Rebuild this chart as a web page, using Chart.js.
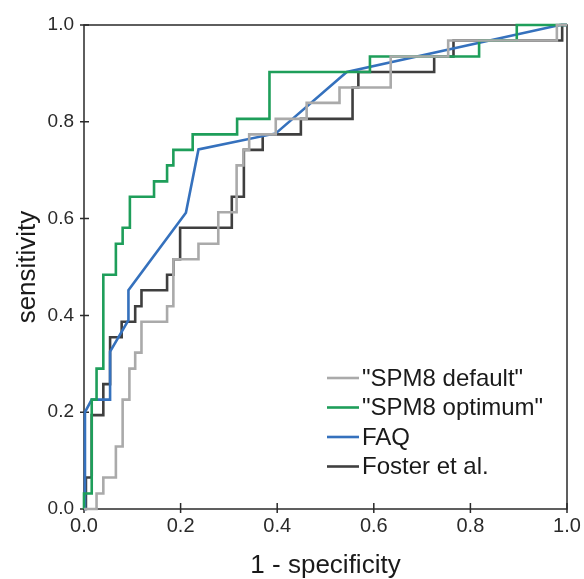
<!DOCTYPE html>
<html>
<head>
<meta charset="utf-8">
<script src="https://cdn.jsdelivr.net/npm/chart.js@4.4.0/dist/chart.umd.min.js"></script>
<style>
html, body { margin: 0; padding: 0; background: #fff; }
#wrap { width: 584px; height: 579px; }
</style>
</head>
<body>
<div id="wrap"><canvas id="roc" width="584" height="579"></canvas></div>
<script>
// ROC curves: x = 1 - specificity, y = sensitivity
// stepped curves: at each x the curve jumps up to the listed y

const defaultFpr = [0, 0.026, 0.04, 0.066, 0.08, 0.094, 0.106, 0.119, 0.172, 0.185, 0.237, 0.278, 0.316, 0.33, 0.342, 0.397, 0.461, 0.529, 0.635, 0.754, 0.979, 1.0];
const defaultTpr = [0, 0.032, 0.065, 0.129, 0.226, 0.29, 0.323, 0.387, 0.419, 0.516, 0.548, 0.613, 0.71, 0.742, 0.774, 0.806, 0.839, 0.871, 0.935, 0.968, 1.0, 1.0];

const optimumFpr = [0, 0, 0.016, 0.026, 0.04, 0.066, 0.08, 0.095, 0.145, 0.172, 0.185, 0.225, 0.317, 0.384, 0.592, 0.818, 0.896, 1.0];
const optimumTpr = [0, 0.032, 0.226, 0.29, 0.484, 0.548, 0.581, 0.645, 0.677, 0.71, 0.742, 0.774, 0.806, 0.903, 0.935, 0.968, 1.0, 1.0];

// FAQ is drawn as a plain polyline
const faqFpr = [0, 0.002, 0.016, 0.054, 0.054, 0.092, 0.092, 0.211, 0.237, 0.397, 0.544, 0.985, 1.0];
const faqTpr = [0, 0.2, 0.226, 0.226, 0.325, 0.39, 0.452, 0.612, 0.743, 0.776, 0.903, 1.0, 1.0];

const fosterFpr = [0, 0.004, 0.016, 0.04, 0.054, 0.078, 0.106, 0.119, 0.172, 0.185, 0.199, 0.306, 0.331, 0.37, 0.449, 0.556, 0.568, 0.725, 0.765, 0.99, 1.0];
const fosterTpr = [0, 0.065, 0.194, 0.258, 0.355, 0.387, 0.419, 0.452, 0.484, 0.516, 0.581, 0.645, 0.742, 0.774, 0.806, 0.871, 0.903, 0.935, 0.968, 1.0, 1.0];

const seriesNames = ['"SPM8 default"', '"SPM8 optimum"', 'FAQ', 'Foster et al.'];
const seriesColors = ['#aaaaaa', '#1e9e5a', '#3571bd', '#3f3f3f'];

const FONT = "'Liberation Sans', Arial, Helvetica, sans-serif";
const INK = '#2a2a2a';

function toPoints(xs, ys) {
    return xs.map((x, i) => ({ x: x, y: ys[i] }));
}

function makeSet(i, xs, ys, stepped) {
    return {
        label: seriesNames[i],
        data: toPoints(xs, ys),
        borderColor: seriesColors[i],
        backgroundColor: seriesColors[i],
        borderWidth: 2.6,
        pointRadius: 0,
        // 'before' = run across at the old height, then climb
        stepped: stepped ? 'before' : false,
        tension: 0,
        fill: false,
        clip: 4
    };
}

// box around the plot plus ticks crossing the axes
const frameTicks = {
    id: 'frameTicks',
    beforeDatasetsDraw(chart) {
        const { ctx, chartArea: a, scales } = chart;
        ctx.save();
        ctx.strokeStyle = INK;
        ctx.lineWidth = 1.5;
        ctx.strokeRect(a.left, a.top, a.right - a.left, a.bottom - a.top);
        ctx.beginPath();
        scales.x.ticks.forEach(t => {
            const px = scales.x.getPixelForValue(t.value);
            ctx.moveTo(px, a.bottom - 6);
            ctx.lineTo(px, a.bottom + 4);
        });
        scales.y.ticks.forEach(t => {
            const py = scales.y.getPixelForValue(t.value);
            ctx.moveTo(a.left - 4, py);
            ctx.lineTo(a.left + 5, py);
        });
        ctx.stroke();
        ctx.restore();
    }
};

// legend sitting inside the plot, lower right
const insideLegend = {
    id: 'insideLegend',
    afterDatasetsDraw(chart, args, opts) {
        const { ctx } = chart;
        ctx.save();
        ctx.font = opts.fontSize + 'px ' + FONT;
        ctx.textBaseline = 'middle';
        ctx.textAlign = 'left';
        chart.data.datasets.forEach((ds, i) => {
            const y = opts.top + i * opts.rowGap;
            ctx.strokeStyle = ds.borderColor;
            ctx.lineWidth = 2.6;
            ctx.beginPath();
            ctx.moveTo(opts.lineStart, y);
            ctx.lineTo(opts.lineEnd, y);
            ctx.stroke();
            ctx.fillStyle = '#1a1a1a';
            ctx.fillText(ds.label, opts.textX, y + 1);
        });
        ctx.restore();
    }
};

const chart = new Chart(document.getElementById('roc'), {
    type: 'line',
    data: {
        datasets: [
            makeSet(0, defaultFpr, defaultTpr, true),
            makeSet(1, optimumFpr, optimumTpr, true),
            makeSet(2, faqFpr, faqTpr, false),
            makeSet(3, fosterFpr, fosterTpr, true)
        ]
    },
    options: {
        responsive: false,
        animation: false,
        layout: { padding: { top: 25, right: 17, left: 0, bottom: 0 } },
        plugins: {
            legend: { display: false },
            tooltip: { enabled: false },
            insideLegend: { fontSize: 24, top: 378, rowGap: 29.5, lineStart: 327, lineEnd: 359, textX: 362 }
        },
        scales: {
            x: {
                type: 'linear',
                min: 0,
                max: 1,
                grid: { display: false },
                border: { display: false },
                ticks: {
                    stepSize: 0.2,
                    padding: -3,
                    color: INK,
                    font: { family: FONT, size: 20 },
                    callback: v => v.toFixed(1)
                },
                title: {
                    display: true,
                    text: '1 - specificity',
                    color: '#1a1a1a',
                    font: { family: FONT, size: 26 },
                    padding: { top: 0, bottom: -2 }
                },
                afterFit: scale => { scale.height = 70; }
            },
            y: {
                type: 'linear',
                min: 0,
                max: 1,
                grid: { display: false },
                border: { display: false },
                ticks: {
                    stepSize: 0.2,
                    padding: 2,
                    color: INK,
                    font: { family: FONT, size: 19 },
                    callback: v => v.toFixed(1)
                },
                title: {
                    display: true,
                    text: 'sensitivity',
                    color: '#1a1a1a',
                    font: { family: FONT, size: 26 },
                    padding: { top: 12, bottom: 0 }
                },
                afterFit: scale => { scale.width = 84; }
            }
        }
    },
    plugins: [frameTicks, insideLegend]
});
</script>
</body>
</html>
